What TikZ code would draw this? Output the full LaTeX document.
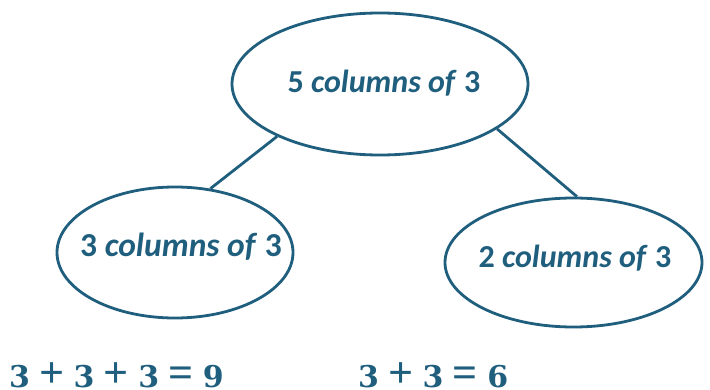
\documentclass[tikz,border=0pt]{standalone}
\usepackage{fontspec}
\newfontfamily\calibri{Carlito}
\newfontfamily\sumfont{DejaVu Serif}
\newfontfamily\opfont{Liberation Serif}
\usepackage{tikz}
\usetikzlibrary{shapes.geometric}
\definecolor{tealblue}{HTML}{1F5E7D}
\newcommand\sumop[1]{\hspace{9.3pt}{\opfont\fontsize{44}{44}\selectfont#1}\hspace{9.3pt}}

\begin{document}
\begin{tikzpicture}[x=1pt, y=1pt,
        bubble/.style={ellipse, draw=tealblue, line width=2.8pt, inner sep=0pt},
        bubbletext/.style={text=tealblue, inner sep=0pt,
                           font=\calibri\bfseries\fontsize{32}{36}\selectfont},
        link/.style={draw=tealblue, line width=2.8pt},
        sum/.style={text=tealblue, inner sep=0pt, anchor=base west,
                    font=\sumfont\bfseries\fontsize{30}{40}\selectfont}]
            \useasboundingbox (0,0) rectangle (710,389);

            %ellipses
            \node[bubble, minimum width=296pt, minimum height=142pt] (five) at (380,305) {};
            \node[bubble, minimum width=236pt, minimum height=131pt] (three) at (175,136.5) {};
            \node[bubble, minimum width=257pt, minimum height=129pt] (two) at (573.5,126.5) {};

            %labels
            \node[bubbletext] (fivetext) at (384,306) {5 \textit{columns of} 3};
            \node[bubbletext, font=\calibri\bfseries\fontsize{33.5}{36}\selectfont] (threetext) at (181,142) {3 \textit{columns of} 3};
            \node[bubbletext] (twotext) at (575,131) {2 \textit{columns of} 3};

            %connectors
            \draw[link] (five.207.9) -- (three.61.5);
            \draw[link] (five.339.9) -- (two.87);

            %sums
            \node[sum] (sumnine) at (9,2) {3\sumop{+}3\sumop{+}3\sumop{=}9};
            \node[sum] (sumsix) at (358,2) {3\sumop{+}3\sumop{=}6};
\end{tikzpicture}
\end{document}
